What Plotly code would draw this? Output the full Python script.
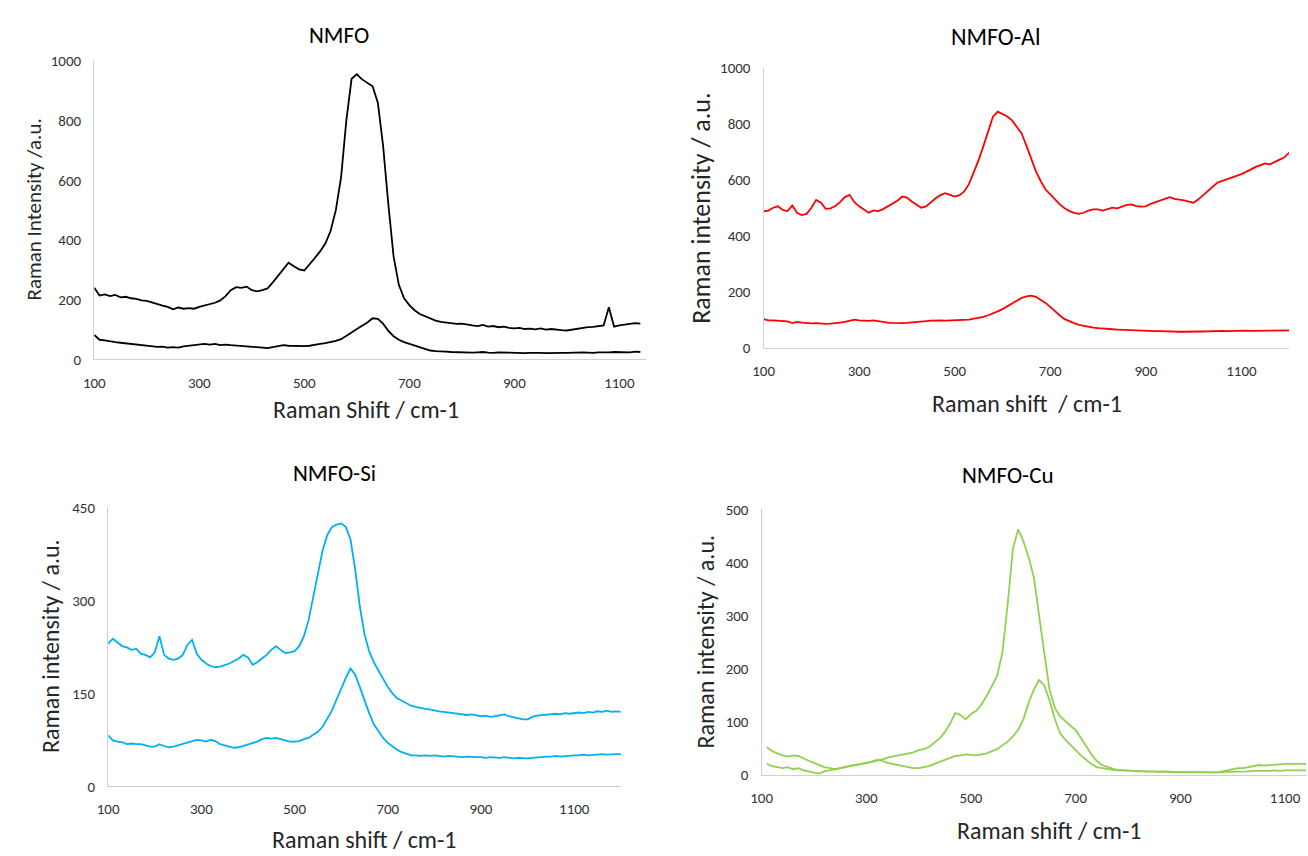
import plotly.graph_objects as go

# ---------------- data (Raman shift in cm-1, intensity in a.u.) ----------------
SHIFT_NMFO = list(range(100, 1150, 10))
NMFO_TOP = [240, 214, 218, 212, 216, 208, 210, 205, 203, 198,
            196, 190, 186, 180, 176, 168, 174, 170, 172, 170,
            176, 180, 186, 190, 198, 212, 232, 242, 240, 244,
            232, 228, 232, 238, 258, 280, 300, 324, 312, 302,
            298, 318, 340, 362, 388, 430, 500, 610, 800, 940,
            955, 938, 925, 915, 860, 716, 520, 345, 250, 205,
            182, 165, 152, 145, 136, 130, 126, 124, 122, 119,
            120, 116, 114, 112, 116, 110, 112, 108, 110, 106,
            104, 106, 102, 103, 101, 104, 100, 102, 99, 98,
            97, 100, 102, 104, 108, 109, 112, 114, 175, 110,
            114, 116, 118, 122, 120]
NMFO_BOTTOM = [82, 66, 64, 60, 58, 56, 54, 52, 50, 48,
               46, 44, 42, 43, 40, 41, 40, 44, 46, 48,
               50, 52, 50, 52, 48, 50, 48, 47, 46, 45,
               44, 42, 40, 38, 42, 46, 48, 46, 45, 44,
               45, 46, 48, 52, 55, 58, 62, 68, 78, 90,
               102, 112, 124, 138, 136, 120, 96, 78, 66, 58,
               52, 46, 40, 34, 30, 28, 26, 26, 25, 24,
               25, 24, 23, 24, 25, 23, 22, 24, 23, 22,
               23, 22, 21, 22, 23, 22, 21, 22, 23, 22,
               22, 23, 22, 24, 23, 22, 24, 23, 24, 25,
               24, 25, 24, 26, 25]

SHIFT_AL = list(range(100, 1210, 10))
AL_TOP = [487, 490, 500, 505, 492, 488, 508, 482, 474, 478,
          500, 528, 518, 496, 498, 506, 520, 538, 546, 520,
          505, 494, 482, 490, 488, 495, 505, 515, 525, 540,
          536, 522, 512, 500, 505, 520, 534, 545, 552, 546,
          540, 545, 558, 585, 625, 670, 720, 775, 825, 843,
          835, 826, 812, 790, 765, 722, 676, 630, 595, 565,
          548, 530, 512, 498, 488, 482, 478, 482, 490, 494,
          494, 490, 496, 500, 498, 505, 510, 512, 506, 504,
          505, 514, 520, 526, 534, 538, 532, 530, 526, 522,
          518, 530, 545, 560, 575, 590, 596, 602, 606, 612,
          620, 628, 638, 646, 652, 658, 655, 665, 672, 680,
          697]
AL_BOTTOM = [102, 98, 98, 96, 95, 94, 88, 92, 90, 88,
             87, 88, 86, 85, 86, 87, 90, 92, 96, 100,
             98, 97, 96, 98, 95, 92, 90, 89, 88, 88,
             89, 90, 91, 92, 95, 97, 98, 98, 97, 98,
             99, 98, 99, 100, 104, 106, 110, 116, 122, 130,
             138, 148, 160, 170, 178, 183, 186, 182, 172, 160,
             146, 130, 115, 102, 94, 88, 82, 78, 74, 72,
             70, 68, 67, 66, 65, 64, 63, 62, 62, 61,
             60, 60, 59, 59, 58, 58, 58, 57, 57, 58,
             57, 58, 58, 59, 59, 59, 60, 59, 60, 60,
             60, 61, 60, 60, 61, 60, 61, 61, 62, 61,
             62]

SHIFT_SI = list(range(100, 1210, 10))
SI_TOP = [230, 238, 232, 226, 224, 220, 222, 214, 212, 208,
          216, 242, 212, 206, 204, 206, 212, 228, 236, 214,
          204, 198, 194, 192, 193, 195, 198, 202, 206, 212,
          208, 196, 200, 206, 212, 220, 226, 220, 215, 216,
          218, 226, 242, 268, 305, 345, 380, 405, 418, 422,
          424, 418, 398, 350, 290, 245, 218, 200, 186, 172,
          160, 150, 142, 138, 134, 130, 128, 126, 125, 124,
          122, 121, 120, 119, 118, 117, 117, 115, 116, 114,
          113, 114, 112, 113, 114, 116, 113, 111, 110, 108,
          108, 112, 114, 115, 116, 116, 117, 116, 118, 117,
          118, 119, 118, 120, 119, 121, 120, 122, 120, 121,
          120]
SI_BOTTOM = [82, 74, 72, 71, 68, 69, 68, 68, 66, 64,
             64, 68, 65, 63, 64, 66, 68, 70, 73, 75,
             74, 72, 75, 73, 68, 66, 64, 62, 63, 65,
             67, 70, 72, 76, 78, 77, 78, 76, 74, 72,
             72, 73, 76, 78, 83, 88, 96, 108, 122, 140,
             158, 175, 190, 180, 160, 138, 118, 100, 88, 78,
             70, 64, 59, 55, 52, 50, 50, 49, 50, 49,
             50, 49, 48, 49, 48, 48, 47, 48, 47, 47,
             47, 46, 47, 46, 46, 47, 46, 45, 46, 45,
             45, 46, 47, 47, 48, 48, 49, 48, 49, 50,
             50, 50, 51, 50, 51, 51, 52, 51, 52, 52,
             52]

SHIFT_CU = list(range(110, 1150, 10))
CU_A = [52, 44, 40, 36, 34, 36, 35, 30, 26, 22,
        18, 14, 12, 10, 12, 15, 17, 18, 20, 21,
        23, 26, 28, 32, 34, 35, 38, 40, 42, 46,
        48, 52, 60, 68, 80, 96, 116, 112, 104, 114,
        120, 132, 148, 166, 186, 230, 320, 425, 462, 440,
        410, 372, 305, 230, 160, 126, 110, 100, 92, 84,
        70, 54, 38, 26, 18, 14, 11, 9, 8, 8,
        7, 7, 6, 6, 6, 5, 6, 5, 5, 5,
        5, 4, 5, 4, 4, 5, 4, 6, 8, 10,
        12, 12, 14, 16, 18, 17, 18, 19, 20, 20,
        20, 20, 20, 20]
CU_B = [20, 16, 14, 12, 14, 10, 12, 8, 6, 3,
        2, 6, 8, 10, 12, 14, 16, 18, 20, 22,
        24, 28, 26, 22, 20, 18, 15, 13, 12, 12,
        14, 16, 20, 24, 28, 32, 35, 36, 38, 37,
        36, 38, 40, 44, 48, 55, 62, 72, 84, 104,
        135, 160, 178, 168, 140, 105, 78, 66, 56, 46,
        36, 28, 20, 14, 12, 10, 9, 8, 8, 7,
        7, 6, 6, 6, 5, 5, 5, 5, 4, 4,
        4, 4, 3, 4, 3, 3, 4, 4, 5, 5,
        6, 6, 6, 7, 7, 6, 7, 8, 7, 8,
        8, 7, 8, 8]

# ---------------- panels ----------------
W, H = 1308, 856
FONT = "Carlito, Calibri, Lato, sans-serif"

panels = [
    dict(title="NMFO", color="#000000", shift=SHIFT_NMFO, series=[NMFO_TOP, NMFO_BOTTOM],
         px=(84, 640), py=(53, 358), xr=[100, 1150], yr=[0, 1000], dy=200,
         title_xy=(331, 27), title_size=23,
         xt="Raman Shift / cm-1", xt_xy=(358, 409),
         yt="Raman Intensity /a.u.", yt_xy=(23, 205), yt_size=21),
    dict(title="NMFO-Al", color="#ff0000", shift=SHIFT_AL, series=[AL_TOP, AL_BOTTOM],
         px=(759, 1289), py=(60, 346), xr=[100, 1200], yr=[0, 1000], dy=200,
         title_xy=(993, 28), title_size=24,
         xt="Raman shift  / cm-1", xt_xy=(1025, 403),
         yt="Raman intensity / a.u.", yt_xy=(696, 204), yt_size=26),
    dict(title="NMFO-Si", color="#00b0f0", shift=SHIFT_SI, series=[SI_TOP, SI_BOTTOM],
         px=(98, 615), py=(509, 794), xr=[100, 1200], yr=[0, 450], dy=150,
         title_xy=(326, 474), title_size=23,
         xt="Raman shift / cm-1", xt_xy=(356, 848),
         yt="Raman intensity / a.u.", yt_xy=(40, 651), yt_size=24),
    dict(title="NMFO-Cu", color="#92d050", shift=SHIFT_CU, series=[CU_A, CU_B],
         px=(757, 1307), py=(511, 782), xr=[100, 1142], yr=[0, 500], dy=100,
         title_xy=(1005, 476), title_size=23,
         xt="Raman shift / cm-1", xt_xy=(1047, 839),
         yt="Raman intensity / a.u.", yt_xy=(700, 646), yt_size=24),
]

fig = go.Figure()
layout = dict(width=W, height=H, margin=dict(l=0, r=0, t=0, b=0),
              paper_bgcolor="white", plot_bgcolor="white", showlegend=False,
              font=dict(family=FONT, color="#262626"))
annotations = []

for i, p in enumerate(panels, start=1):
    xa = "x" if i == 1 else f"x{i}"
    ya = "y" if i == 1 else f"y{i}"
    for ys in p["series"]:
        fig.add_trace(go.Scatter(x=p["shift"], y=ys, mode="lines", xaxis=xa, yaxis=ya,
                                 line=dict(color=p["color"], width=1.8),
                                 hoverinfo="skip"))
    axis_common = dict(showline=True, linecolor="#d0d0d0", linewidth=1.3,
                       showgrid=False, zeroline=False, ticks="outside",
                       tickcolor="rgba(0,0,0,0)", ticklen=9,
                       tickfont=dict(family=FONT, size=15, color="#333333"))
    layout[f"xaxis{'' if i == 1 else i}"] = dict(
        axis_common, domain=[p["px"][0] / W, p["px"][1] / W], range=p["xr"],
        tickmode="array", tickvals=[100, 300, 500, 700, 900, 1100],
        anchor=ya)
    layout[f"yaxis{'' if i == 1 else i}"] = dict(
        axis_common, domain=[1 - p["py"][1] / H, 1 - p["py"][0] / H], range=p["yr"],
        dtick=p["dy"], tick0=0, anchor=xa)

    tx, ty = p["title_xy"]
    annotations.append(dict(text=p["title"], x=tx / W, y=1 - ty / H, xref="paper", yref="paper",
                            xanchor="center", yanchor="middle", showarrow=False,
                            font=dict(family=FONT, size=p["title_size"], color="#000000")))
    ax, ay = p["xt_xy"]
    annotations.append(dict(text=p["xt"].replace("  ", "&nbsp; "), x=ax / W, y=1 - ay / H,
                            xref="paper", yref="paper",
                            xanchor="center", yanchor="middle", showarrow=False,
                            font=dict(family=FONT, size=24, color="#262626")))
    bx, by = p["yt_xy"]
    annotations.append(dict(text=p["yt"], x=bx / W, y=1 - by / H, xref="paper", yref="paper",
                            xanchor="center", yanchor="middle", showarrow=False, textangle=-90,
                            font=dict(family=FONT, size=p["yt_size"], color="#262626")))

layout["annotations"] = annotations
fig.update_layout(**layout)
fig.write_html("out.html")
